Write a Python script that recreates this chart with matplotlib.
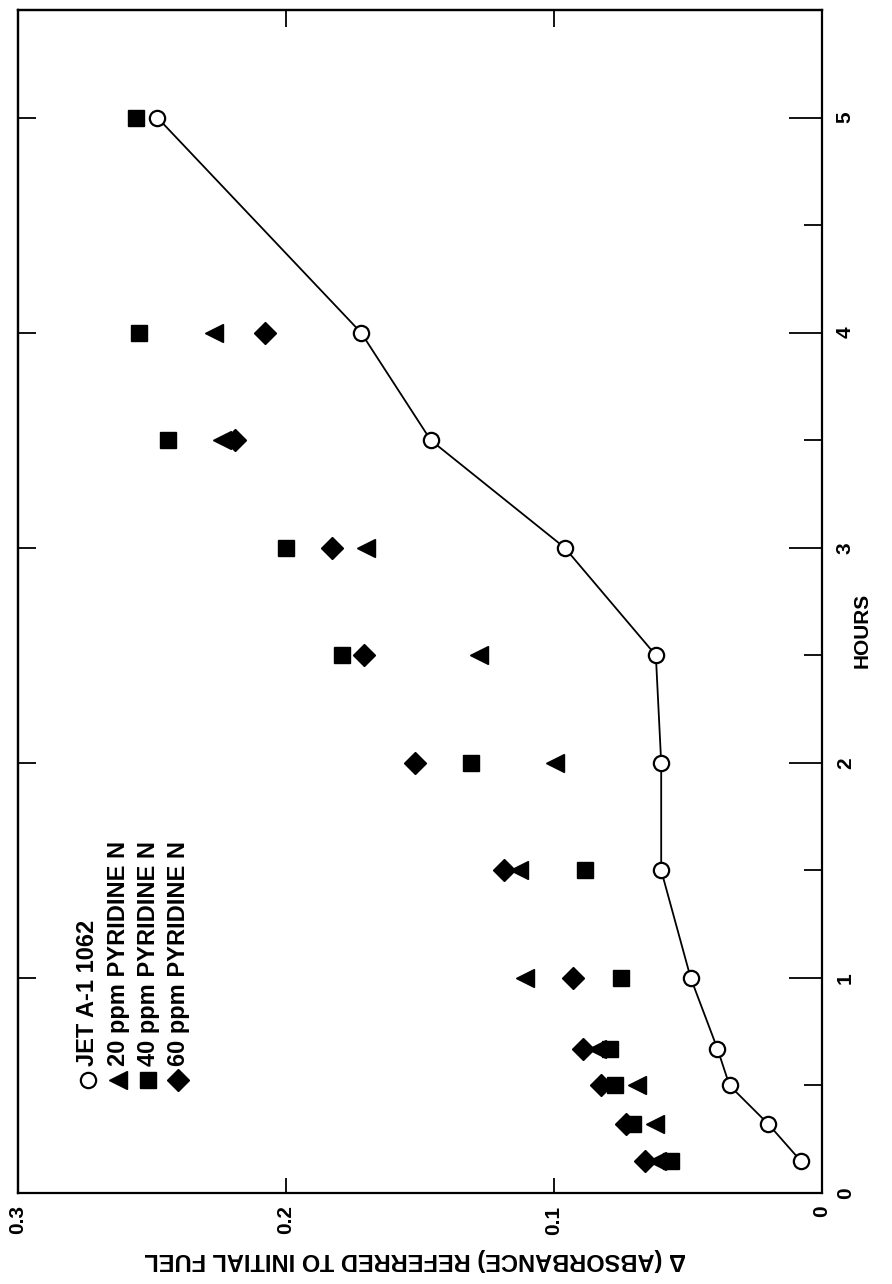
import matplotlib.pyplot as plt
from matplotlib.ticker import MultipleLocator

plt.rcParams['font.family'] = ['Liberation Sans', 'DejaVu Sans']
plt.rcParams['font.weight'] = 'bold'

# sampling times (hours)
hours = [0.15, 0.32, 0.5, 0.67, 1.0, 1.5, 2.0, 2.5, 3.0, 3.5, 4.0, 5.0]

# delta absorbance referred to initial fuel
jet_a1 = [0.008, 0.020, 0.0345, 0.039, 0.049, 0.060, 0.060, 0.062, 0.096, 0.146, 0.172, 0.248]
ppm20 = [0.0615, 0.0623, 0.069, 0.084, 0.111, 0.113, 0.0998, 0.128, 0.170, 0.224, 0.227]
ppm40 = [0.0563, 0.0705, 0.0773, 0.079, 0.075, 0.0886, 0.131, 0.179, 0.200, 0.244, 0.255, 0.256]
ppm60 = [0.066, 0.073, 0.0826, 0.089, 0.093, 0.1186, 0.152, 0.171, 0.183, 0.219, 0.208]

legend_labels = ['JET A-1 1062', '20 ppm PYRIDINE N', '40 ppm PYRIDINE N', '60 ppm PYRIDINE N']
abs_ticks = [0.3, 0.2, 0.1, 0.0]
abs_ticklabels = ['0.3', '0.2', '0.1', '0']
hour_ticks = [0, 1, 2, 3, 4, 5]

W, H = 892, 1284
fig = plt.figure(figsize=(W / 100, H / 100), dpi=100)

# frame edges in pixels
left, right, top, bottom = 18, 822, 10, 1193
ax = fig.add_axes([left / W, 1 - bottom / H, (right - left) / W, (bottom - top) / H])

# page is turned: absorbance runs right-to-left along the bottom, hours up the right side
ax.plot(ppm20, hours[:len(ppm20)], linestyle='none', marker='<',
        markersize=13, color='black', zorder=3)
ax.plot(ppm60, hours[:len(ppm60)], linestyle='none', marker='D',
        markersize=11, color='black', zorder=3)
ax.plot(ppm40, hours[:len(ppm40)], linestyle='none', marker='s',
        markersize=12, color='black', zorder=3)
ax.plot(jet_a1, hours, color='black', linewidth=1.3, marker='o', markersize=11,
        markerfacecolor='white', markeredgecolor='black', markeredgewidth=1.6, zorder=4)

ax.set_xlim(0.3, 0.0)
ax.set_ylim(0, 5.5)

for sp in ax.spines.values():
    sp.set_linewidth(1.6)

ax.set_xticks(abs_ticks)
ax.set_xticklabels(abs_ticklabels, rotation=90, fontsize=15, fontweight='bold')
ax.tick_params(axis='x', direction='in', length=11, width=1.3, pad=9)

ax.yaxis.tick_right()
ax.set_yticks(hour_ticks)
ax.set_yticklabels([str(h) for h in hour_ticks], rotation=90, fontsize=15,
                   fontweight='bold', va='center')
ax.yaxis.set_minor_locator(MultipleLocator(0.5))
ax.tick_params(axis='y', which='major', direction='in', length=24, width=1.3, pad=10)
ax.tick_params(axis='y', which='minor', direction='in', length=13, width=1.3)

top_ax = ax.secondary_xaxis('top')
top_ax.set_xticks([0.2, 0.1])
top_ax.tick_params(direction='in', length=12, width=1.3, labeltop=False)
top_ax.spines['top'].set_linewidth(1.6)

left_ax = ax.secondary_yaxis('left')
left_ax.set_yticks([1, 2, 3, 4, 5])
left_ax.tick_params(direction='in', length=13, width=1.3, labelleft=False)
left_ax.spines['left'].set_linewidth(1.6)

fig.text(862 / W, 1 - 630 / H, 'HOURS', rotation=90, ha='center', va='center',
         fontsize=15, fontweight='bold')
fig.text(415 / W, 1 - 1260 / H, '\u0394 (ABSORBANCE) REFERRED TO INITIAL FUEL',
         rotation=180, ha='center', va='center', fontsize=17, fontweight='bold')

# legend, written up the page
key_styles = [
    dict(marker='o', markersize=11, markerfacecolor='white', markeredgecolor='black',
         markeredgewidth=1.6),
    dict(marker='<', markersize=13, color='black'),
    dict(marker='s', markersize=12, color='black'),
    dict(marker='D', markersize=11, color='black'),
]
for i, (label, style) in enumerate(zip(legend_labels, key_styles)):
    kx = (88 + 30 * i - left) / (right - left)
    ky = (bottom - 1080) / (bottom - top)
    ax.plot([kx], [ky], transform=ax.transAxes, linestyle='none', clip_on=False, **style)
    ax.text(kx, (bottom - 1066) / (bottom - top), label, transform=ax.transAxes,
            rotation=90, rotation_mode='anchor', ha='left', va='center',
            fontsize=17, fontweight='bold')

fig.savefig('out.png', dpi=100)
